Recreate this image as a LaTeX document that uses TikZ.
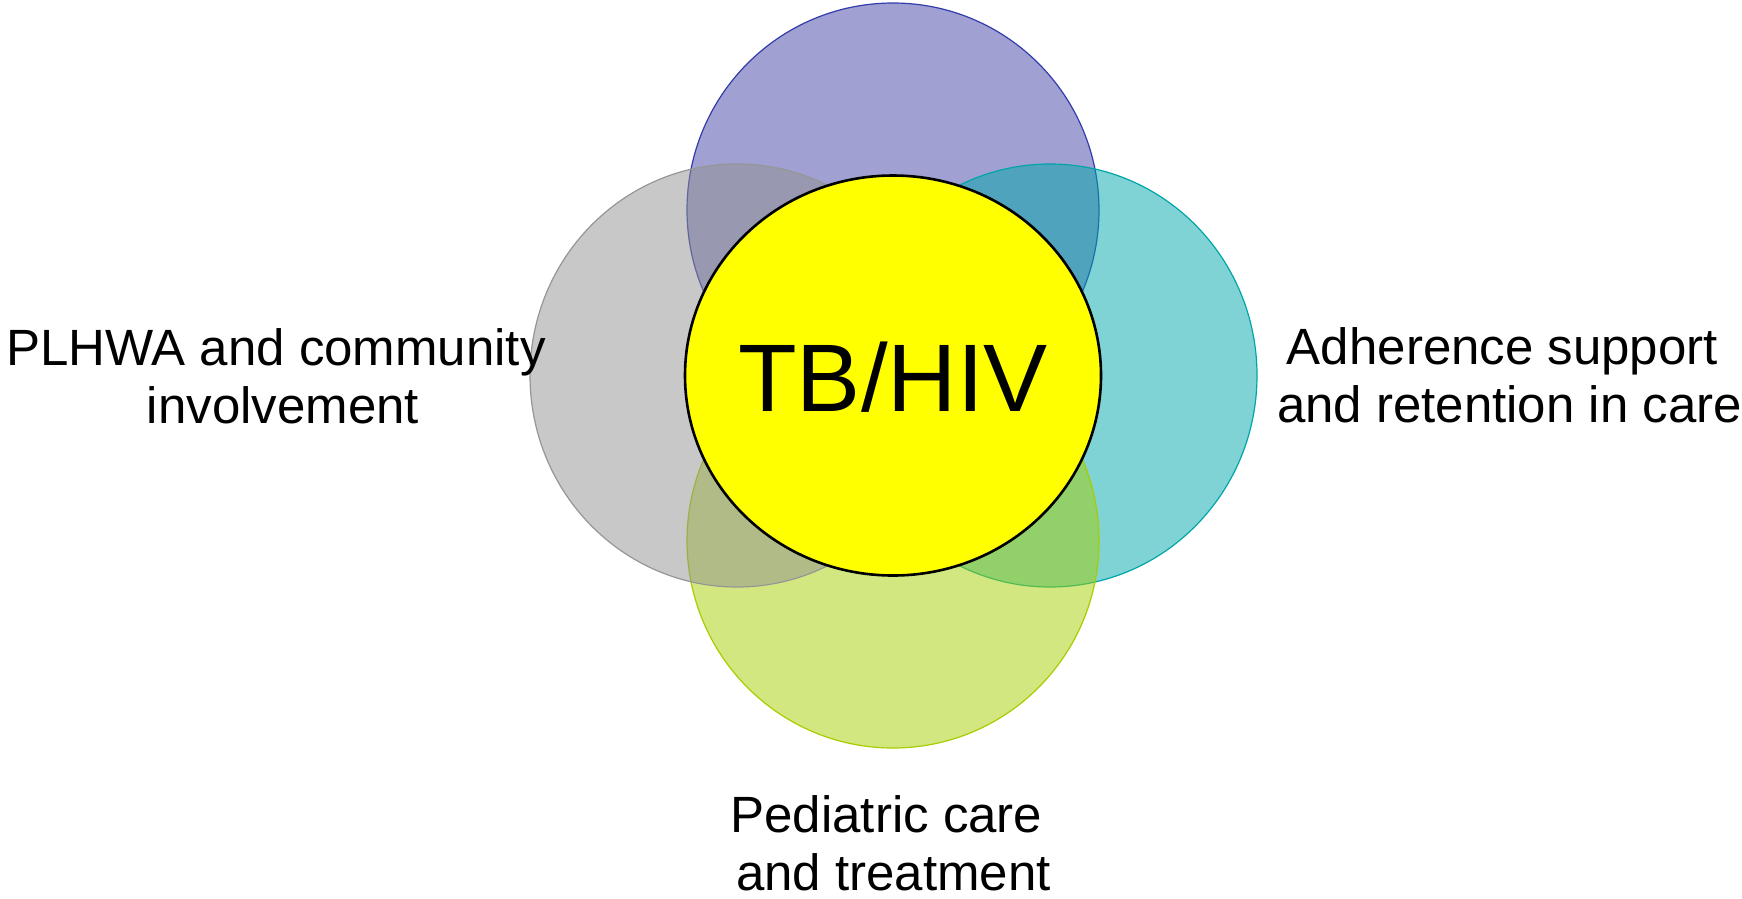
\documentclass[tikz,border=0pt]{standalone}
\usepackage{fontspec}
\setmainfont{Liberation Sans}
\usetikzlibrary{shapes.geometric}
\definecolor{cpurple}{RGB}{65,65,165}
\definecolor{cpurpleline}{RGB}{50,60,170}
\definecolor{cteal}{RGB}{0,167,169}
\definecolor{ctealline}{RGB}{0,165,168}
\definecolor{cgreen}{RGB}{165,207,1}
\definecolor{cgreenline}{RGB}{168,204,0}
\definecolor{cgray}{RGB}{145,145,145}
\definecolor{cgrayline}{RGB}{150,150,150}
\tikzset{
  petal/.style={ellipse, inner sep=0pt, minimum width=412pt, minimum height=414pt, fill opacity=0.5, line width=1.2pt},
  sidepetal/.style={petal, minimum width=414pt, minimum height=423pt},
  core/.style={ellipse, inner sep=0pt, minimum width=416pt, minimum height=400pt, fill={rgb,255:red,255;green,255;blue,0}, draw=black, line width=2.6pt},
  label/.style={align=center, font=\fontsize{51}{58}\selectfont, inner sep=0pt}
}
\begin{document}
\begin{tikzpicture}[x=1pt,y=-1pt]
\useasboundingbox (0,0) rectangle (1742,898);
\node[petal, fill=cpurple, draw=cpurpleline] (top) at (893,210) {};
\node[sidepetal, fill=cteal, draw=ctealline] (right) at (1050,375.5) {};
\node[petal, fill=cgreen, draw=cgreenline] (bottom) at (893,541) {};
\node[sidepetal, fill=cgray, draw=cgrayline] (left) at (737,375.5) {};
\node[core] (center) at (893,375.5) {};
\node[font=\fontsize{96}{110}\selectfont, inner sep=0pt, anchor=base] (tbhiv) at (893,411) {TB/HIV};
\node[label, anchor=base] (plhwa) at (283,423) {PLHWA and community\hspace*{0.278em}\\involvement};
\node[label, anchor=base] (adher) at (1509.5,422) {Adherence support\hspace*{0.278em}\\and retention in care};
\node[label, anchor=base] (pedia) at (893.5,890) {Pediatric care\hspace*{0.278em}\\and treatment};
\end{tikzpicture}
\end{document}
